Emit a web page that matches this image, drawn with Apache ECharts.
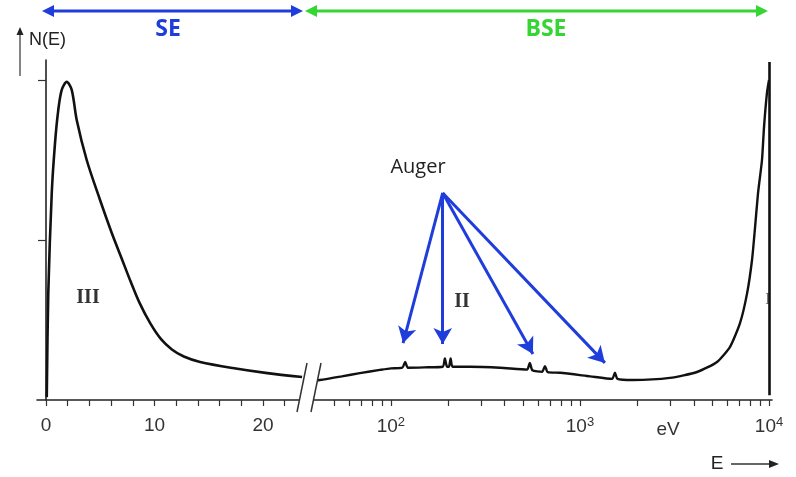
<!DOCTYPE html>
<html>
<head>
<meta charset="utf-8">
<script src="https://cdn.jsdelivr.net/npm/echarts@6/dist/echarts.min.js"></script>
<style>
  html, body { margin: 0; padding: 0; background: #fff; }
  #chart { width: 796px; height: 477px; }
</style>
</head>
<body>
<div id="chart"></div>
<script>
// secondary electrons, linear part (E in eV)
var seE = [0.07, 0.21, 0.53, 0.83, 1.13, 1.45, 1.91, 2.37, 2.83, 3.75, 4.98, 6.06, 7.0, 7.8, 8.6, 9.6, 10.6, 11.6, 12.7, 14.2, 17.2, 20.4, 23.6];
var seN = [0.009, 0.334, 0.647, 0.803, 0.906, 0.969, 0.994, 0.969, 0.875, 0.75, 0.625, 0.522, 0.44, 0.37, 0.305, 0.24, 0.19, 0.158, 0.136, 0.119, 0.10, 0.084, 0.072];

// backscattered part, log scale (with the small Auger peaks)
var bseE = [38, 42, 55, 68.5, 87.5, 100, 115, 119, 123, 150, 188, 193, 198, 203, 207, 212, 262, 378, 525, 543, 560, 630, 653, 675, 785, 1130, 1480, 1531, 1580, 1900, 2990, 4160, 5310, 6220, 7030, 7660, 8130, 8440, 8750, 9180, 9410, 9750, 10000];
var bseN = [0.060, 0.0625, 0.074, 0.084, 0.094, 0.099, 0.101, 0.119, 0.101, 0.102, 0.104, 0.130, 0.104, 0.104, 0.130, 0.104, 0.104, 0.101, 0.095, 0.116, 0.093, 0.088, 0.106, 0.087, 0.085, 0.074, 0.066, 0.085, 0.066, 0.0625, 0.069, 0.0875, 0.119, 0.166, 0.241, 0.334, 0.4375, 0.541, 0.647, 0.75, 0.853, 0.959, 1.0];

// tick positions and labels
var linTicks = [0, 2, 4, 6, 8, 10, 12, 14, 16, 18, 20, 22];
var linLabels = [0, 10, 20];
var logTicks = [50, 60, 70, 80, 90, 100, 200, 300, 400, 500, 600, 700, 800, 900, 1000, 2000, 3000, 4000, 5000, 6000, 7000, 8000, 9000, 10000];
var logLabels = [100, 1000, 10000];
var yTicks = [0.5, 1];

// Auger arrows: from label to peaks
var augerFrom = [188, 0.647];
var augerTo = [[116, 0.178], [188, 0.175], [564, 0.144], [1355, 0.116]];

var chart = echarts.init(document.getElementById('chart'));

var blue = '#1f3ddb', green = '#33d633', ink = '#111';
var fontTick = '"Liberation Sans Narrow", "Liberation Sans", Arial, sans-serif';

function pairs(xs, ys) {
  return xs.map(function (x, i) { return [x, ys[i]]; });
}

function arrowHead(x, y, dir, color) {
  // dir: 1 = right, -1 = left
  return {
    type: 'polygon',
    shape: { points: [[x, y], [x - dir * 12, y - 6], [x - dir * 12, y + 6]] },
    style: { fill: color }
  };
}

var roman = 'bold 20px "Liberation Serif", "DejaVu Serif", serif';

var graphics = [
  // SE arrow
  { type: 'line', shape: { x1: 50, y1: 11, x2: 295, y2: 11 }, style: { stroke: blue, lineWidth: 3 } },
  arrowHead(42, 11, -1, blue),
  arrowHead(303, 11, 1, blue),
  // BSE arrow
  { type: 'line', shape: { x1: 313, y1: 11, x2: 760, y2: 11 }, style: { stroke: green, lineWidth: 3 } },
  arrowHead(305, 11, -1, green),
  arrowHead(768, 11, 1, green),
  { type: 'text', x: 168, y: 29, style: { text: 'SE', fill: blue, font: 'bold 23px "Open Sans", sans-serif', align: 'center', verticalAlign: 'middle' } },
  { type: 'text', x: 546, y: 29, style: { text: 'BSE', fill: green, font: 'bold 23px "Open Sans", sans-serif', align: 'center', verticalAlign: 'middle' } },
  // N(E) label with arrow
  { type: 'line', shape: { x1: 20, y1: 76, x2: 20, y2: 34 }, style: { stroke: '#333', lineWidth: 1.2 } },
  { type: 'polygon', shape: { points: [[20, 27], [16.5, 35], [23.5, 35]] }, style: { fill: '#222' } },
  { type: 'text', x: 29, y: 40, style: { text: 'N(E)', fill: '#222', font: '18px "Liberation Sans Narrow", "Liberation Sans", sans-serif', verticalAlign: 'middle' } },
  // E --> label
  { type: 'text', x: 717, y: 464, style: { text: 'E', fill: '#222', font: '19px "Liberation Sans Narrow", "Liberation Sans", sans-serif', align: 'center', verticalAlign: 'middle' } },
  { type: 'line', shape: { x1: 731, y1: 464, x2: 770, y2: 464 }, style: { stroke: '#333', lineWidth: 1.5 } },
  { type: 'polygon', shape: { points: [[779, 464], [769, 460], [769, 468]] }, style: { fill: '#222' } },
  { type: 'text', x: 668, y: 430, style: { text: 'eV', fill: '#333', font: '19px "Liberation Sans Narrow", "Liberation Sans", sans-serif', align: 'center', verticalAlign: 'middle' } },
  // Roman numerals
  { type: 'text', x: 88, y: 298, style: { text: 'III', fill: '#333', font: roman, align: 'center', verticalAlign: 'middle' } },
  { type: 'text', x: 462, y: 302, style: { text: 'II', fill: '#333', font: roman, align: 'center', verticalAlign: 'middle' } },
  { type: 'text', x: 768, y: 300, style: { text: 'I', fill: '#666', font: '16px "Liberation Serif", "DejaVu Serif", serif', align: 'center', verticalAlign: 'middle' } },
  // Auger label
  { type: 'text', x: 418, y: 167, style: { text: 'Auger', fill: '#222', font: '20px "Open Sans", "DejaVu Sans", sans-serif', align: 'center', verticalAlign: 'middle' } },
  // axis break
  { type: 'polygon', z: 50, shape: { points: [[297, 412], [307, 362], [321, 362], [311, 412]] }, style: { fill: '#fff' } },
  { type: 'line', z: 51, shape: { x1: 297, y1: 412, x2: 307, y2: 363 }, style: { stroke: '#333', lineWidth: 1.5 } },
  { type: 'line', z: 51, shape: { x1: 311, y1: 412, x2: 321, y2: 363 }, style: { stroke: '#333', lineWidth: 1.5 } }
];

var axisLineStyle = { color: '#222', width: 1.6 };

var option = {
  animation: false,
  backgroundColor: '#fff',
  grid: [
    { left: 37, top: 60, width: 264, height: 340 },
    { left: 314, top: 60, width: 458, height: 340 }
  ],
  xAxis: [
    {
      type: 'value', gridIndex: 0, min: -0.83, max: 23.5,
      axisLine: { lineStyle: axisLineStyle },
      axisTick: { customValues: linTicks, length: 6, lineStyle: { color: '#333', width: 1.2 } },
      axisLabel: {
        customValues: linLabels, margin: 16, color: '#333',
        fontSize: 19, fontFamily: fontTick
      },
      splitLine: { show: false }
    },
    {
      type: 'log', gridIndex: 1, logBase: 10, min: 39.2, max: 10370,
      axisLine: { lineStyle: axisLineStyle },
      axisTick: { customValues: logTicks, length: 6, lineStyle: { color: '#333', width: 1.2 } },
      axisLabel: {
        customValues: logLabels, margin: 16, color: '#333',
        fontSize: 19, fontFamily: fontTick,
        formatter: function (v) {
          var p = Math.round(Math.log(v) / Math.LN10);
          return '{b|10}{s|' + p + '}';
        },
        rich: {
          b: { fontSize: 19, fontFamily: fontTick, color: '#333' },
          s: { fontSize: 13, fontFamily: fontTick, color: '#333', verticalAlign: 'top', padding: [0, 0, 8, 0] }
        }
      },
      splitLine: { show: false }
    }
  ],
  yAxis: [
    {
      type: 'value', gridIndex: 0, min: 0, max: 1.0625,
      axisLine: { show: true, onZero: true, lineStyle: axisLineStyle },
      axisTick: { show: true, customValues: yTicks, length: 8, lineStyle: { color: '#333', width: 1.2 } },
      axisLabel: { show: false },
      splitLine: { show: false }
    },
    {
      type: 'value', gridIndex: 1, min: 0, max: 1.0625, show: false,
      splitLine: { show: false }
    }
  ],
  series: [
    {
      type: 'line', xAxisIndex: 0, yAxisIndex: 0,
      data: pairs(seE, seN), smooth: 0.3, symbol: 'none',
      lineStyle: { color: ink, width: 2.6 }
    },
    {
      type: 'line', xAxisIndex: 1, yAxisIndex: 1,
      data: pairs(bseE, bseN), smooth: 0.2, symbol: 'none',
      lineStyle: { color: ink, width: 2.4 },
      markLine: {
        silent: true, symbol: ['none', 'arrow'], symbolSize: [14, 16],
        label: { show: false },
        lineStyle: { color: blue, width: 3, type: 'solid' },
        data: augerTo.map(function (t) {
          return [{ coord: augerFrom }, { coord: t }];
        })
      }
    },
    {
      type: 'line', xAxisIndex: 1, yAxisIndex: 1, data: [],
      markLine: {
        silent: true, symbol: 'none', label: { show: false },
        lineStyle: { color: ink, width: 2.6, type: 'solid' },
        data: [[{ coord: [10000, 1.056] }, { coord: [10000, 0.015] }]]
      }
    }
  ],
  graphic: graphics
};

chart.setOption(option);
</script>
</body>
</html>
